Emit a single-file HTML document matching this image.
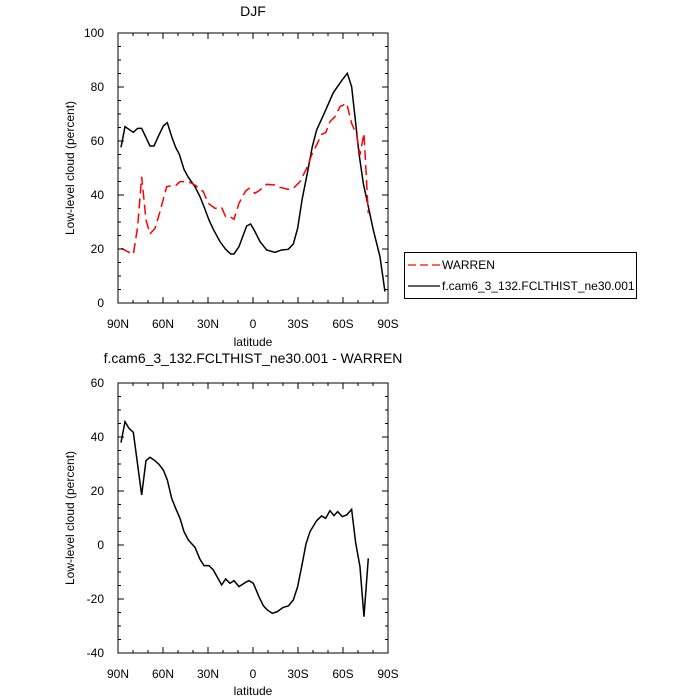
<!DOCTYPE html>
<html><head><style>body{margin:0;background:#fff}svg{display:block}text{font-family:"Liberation Sans",sans-serif;fill:#000}</style></head>
<body>
<svg width="700" height="700" viewBox="0 0 700 700" xmlns="http://www.w3.org/2000/svg">
<text x="253" y="16" font-size="14" text-anchor="middle">DJF</text>
<text x="253" y="363" font-size="14" text-anchor="middle">f.cam6_3_132.FCLTHIST_ne30.001 - WARREN</text>
<text x="253" y="346" font-size="12" text-anchor="middle">latitude</text>
<text x="253" y="695" font-size="12" text-anchor="middle">latitude</text>
<text transform="translate(74,168) rotate(-90)" font-size="12" text-anchor="middle">Low-level cloud (percent)</text>
<text transform="translate(74,518) rotate(-90)" font-size="12" text-anchor="middle">Low-level cloud (percent)</text>
<rect x="118" y="33" width="270" height="270" fill="none" stroke="#000" stroke-width="1"/>
<rect x="118" y="383" width="270" height="270" fill="none" stroke="#000" stroke-width="1"/>
<g font-size="12" text-anchor="middle">
<text x="118" y="328">90N</text><text x="163" y="328">60N</text><text x="208" y="328">30N</text><text x="253" y="328">0</text><text x="298" y="328">30S</text><text x="343" y="328">60S</text><text x="388" y="328">90S</text>
<text x="118" y="678">90N</text><text x="163" y="678">60N</text><text x="208" y="678">30N</text><text x="253" y="678">0</text><text x="298" y="678">30S</text><text x="343" y="678">60S</text><text x="388" y="678">90S</text>
</g>
<g font-size="12" text-anchor="end">
<text x="104" y="37">100</text><text x="104" y="91">80</text><text x="104" y="145">60</text><text x="104" y="199">40</text><text x="104" y="253">20</text><text x="104" y="307">0</text>
<text x="104" y="387">60</text><text x="104" y="441">40</text><text x="104" y="495">20</text><text x="104" y="549">0</text><text x="104" y="603">-20</text><text x="104" y="657">-40</text>
</g>
<g transform="translate(60,20) scale(0.3333)" fill="none" stroke-width="4.5">
<polyline stroke="#000" points="183,382 195,320 220,337 233,325 245,325 270,378 282,378 297,345 310,318 322,308 335,350 347,382 358,403 372,448 385,472 405,500 420,530 432,560 447,600 460,628 480,665 497,688 512,702 522,702 537,680 560,618 572,612 585,635 600,665 620,690 645,697 665,690 685,688 700,672 713,625 727,535 742,460 757,380 770,330 795,275 820,218 845,182 862,160 875,200 885,290 897,400 910,490 925,560 940,630 960,710 975,815"/>
<polyline stroke="#f00" stroke-dasharray="30,15" points="183,685 220,703 233,620 245,470 258,600 270,642 285,625 300,575 320,500 335,497 347,497 360,485 385,485 405,495 430,515 445,550 465,565 485,563 497,590 510,590 522,598 537,550 557,513 567,505 585,520 600,510 620,493 645,495 660,502 685,508 700,505 720,485 740,445 757,400 770,375 785,343 797,338 810,305 825,290 840,260 860,250 875,310 890,345 900,405 912,340 925,580"/>
</g>
<g transform="translate(60,370) scale(0.3333)" fill="none" stroke-width="4.5">
<polyline stroke="#000" points="183,218 195,155 207,175 220,187 245,375 258,272 270,262 285,272 297,283 310,300 322,330 335,385 347,415 360,445 372,485 385,510 405,532 420,568 432,587 447,587 460,600 485,645 497,627 510,640 522,632 537,650 557,637 567,632 580,640 597,680 610,707 622,720 637,730 652,725 670,712 685,708 700,690 713,650 727,580 738,522 750,485 770,452 785,438 797,445 810,422 822,437 833,425 847,440 860,435 875,418 887,518 900,590 912,740 925,565"/>
</g>
<rect x="404.5" y="252.5" width="232" height="46" fill="#fff" stroke="#000"/>
<line x1="408" y1="265" x2="440" y2="265" stroke="#f00" stroke-dasharray="8,4" stroke-width="1.3"/>
<line x1="408" y1="286" x2="440" y2="286" stroke="#000" stroke-width="1.3"/>
<text x="442" y="269" font-size="12">WARREN</text>
<text x="442" y="290" font-size="12">f.cam6_3_132.FCLTHIST_ne30.001</text>
<g stroke="#000" stroke-width="1" id="ticks"></g>
<script>
var g=document.getElementById('ticks'),ns='http://www.w3.org/2000/svg';
function L(a,b,c,d){var l=document.createElementNS(ns,'line');l.setAttribute('x1',a);l.setAttribute('y1',b);l.setAttribute('x2',c);l.setAttribute('y2',d);g.appendChild(l);}
[33,383].forEach(function(t){var b=t+270;
for(var i=0;i<=18;i++){var x=118+i*15,len=(i%3==0)?6:3;L(x,b,x,b-len);L(x,t,x,t+len);}
for(var j=0;j<=20;j++){var y=b-j*13.5,len=(j%4==0)?6:3;L(118,y,118+len,y);L(388,y,388-len,y);}
});
</script>
</svg>
</body></html>
